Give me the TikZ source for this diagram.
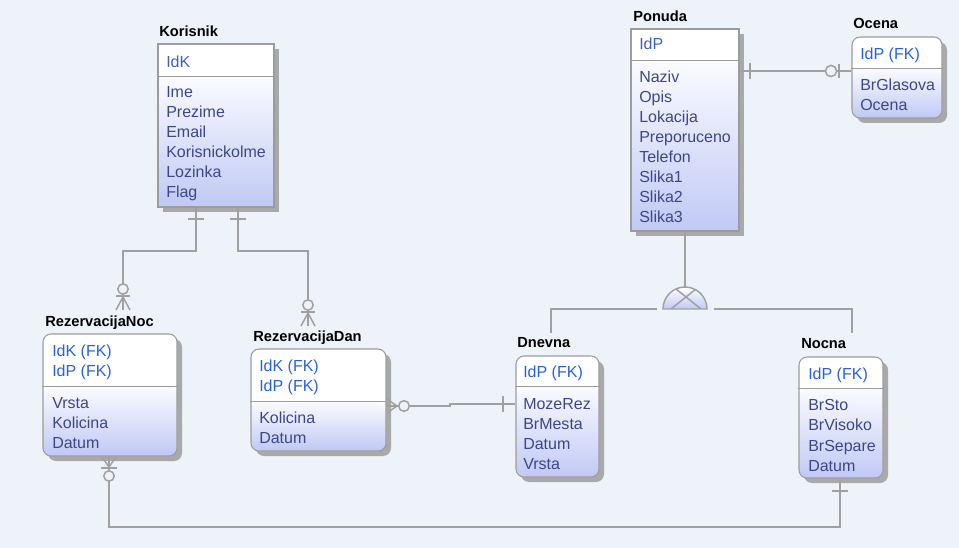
\documentclass[tikz,border=0pt]{standalone}
\usepackage{fontspec}
\setmainfont{Liberation Sans}
\usetikzlibrary{fit,shadows}
\definecolor{bgc}{HTML}{EEF3FA}
\definecolor{framec}{HTML}{9C9C9C}
\definecolor{shadowc}{HTML}{A9A9A9}
\definecolor{bodytop}{HTML}{FAFBFF}
\definecolor{bodybot}{HTML}{C0C9F5}
\definecolor{attrc}{HTML}{3D4785}
\definecolor{keyc}{HTML}{4560B0}
\definecolor{fkc}{HTML}{2A62D6}
\definecolor{connc}{HTML}{A0A0A0}
\newcommand\entbox[7]{%
  \node[entbg, #7, fit={(#2,#3) (#4,#5)}] (#1bg) {};
  \node[entbody, #7, fit={(#2,#6) (#4,#5)}] (#1body) {};
  \node[entframe, #7, fit={(#2,#3) (#4,#5)}] (#1) {};
  \draw[sepline] (#1.west |- #1body.north) -- (#1.east |- #1body.north);
}
\tikzset{
  entbg/.style={fill=white, draw=none, inner sep=0pt,
    drop shadow={shadow xshift=3.75pt, shadow yshift=-3.75pt, fill=shadowc, opacity=1}},
  entbody/.style={inner sep=0pt, draw=none, top color=bodytop, bottom color=bodybot},
  entframe/.style={inner sep=0pt, draw=framec, line width=0.8pt, fill=none},
  sepline/.style={draw=framec, line width=0.8pt},
  roundbox/.style={rounded corners=6pt},
  squarebox/.style={sharp corners},
  ttl/.style={font=\bfseries\fontsize{11}{13}\selectfont, text=black, inner sep=0pt, anchor=base west},
  attr/.style={font=\fontsize{12}{15}\selectfont, text=attrc, inner sep=0pt, anchor=base west},
  pk/.style={attr, text=keyc},
  fk/.style={attr, text=fkc},
  conn/.style={draw=connc, line width=1.1pt},
}
\begin{document}
\begin{tikzpicture}[x=0.75pt,y=-0.75pt]
\fill[bgc] (0,0) rectangle (959,548);
\useasboundingbox (0,0) rectangle (959,548);

% free ends of connectors
\coordinate (rnTop) at (123,310);
\coordinate (rdTop) at (308,326);
\coordinate (dnTop) at (551,333);
\coordinate (ncTop) at (852,333);
\coordinate (subTop) at (685,287);
\coordinate (subL) at (657,309);
\coordinate (subR) at (714,309);

% ---------- entities ----------
\entbox{kor}{158}{44}{274}{207}{77}{squarebox}
\entbox{po}{631}{29}{739}{231}{61}{squarebox}
\entbox{oc}{852}{37}{942}{118}{69}{roundbox}
\entbox{rn}{43}{334}{177}{456}{387}{roundbox}
\entbox{rd}{251}{349}{386}{451}{402}{roundbox}
\entbox{dn}{516}{356}{599}{477}{387}{roundbox}
\entbox{nc}{799}{357}{883}{478}{389}{roundbox}

% titles
\node[ttl] (korT) at (159,37) {Korisnik};
\node[ttl] (poT) at (633,22) {Ponuda};
\node[ttl] (ocT) at (853,29) {Ocena};
\node[ttl] (rnT) at (45,327) {RezervacijaNoc};
\node[ttl] (rdT) at (253,342) {RezervacijaDan};
\node[ttl] (dnT) at (517,348) {Dnevna};
\node[ttl] (ncT) at (801,349) {Nocna};

% Korisnik
\node[pk] (kor-k) at (166,68) {IdK};
\foreach \t [count=\i from 0] in {Ime,Prezime,Email,Korisnickolme,Lozinka,Flag}
  \node[attr] (kor-a\i) at (166,{98+20*\i}) {\t};
% Ponuda
\node[pk] (po-k) at (639,50) {IdP};
\foreach \t [count=\i from 0] in {Naziv,Opis,Lokacija,Preporuceno,Telefon,Slika1,Slika2,Slika3}
  \node[attr] (po-a\i) at (639,{83+20*\i}) {\t};
% Ocena
\node[fk] (oc-k) at (860,60) {IdP (FK)};
\foreach \t [count=\i from 0] in {BrGlasova,Ocena}
  \node[attr] (oc-a\i) at (860,{91+20*\i}) {\t};
% RezervacijaNoc
\node[fk] (rn-k0) at (52,357) {IdK (FK)};
\node[fk] (rn-k1) at (52,377) {IdP (FK)};
\foreach \t [count=\i from 0] in {Vrsta,Kolicina,Datum}
  \node[attr] (rn-a\i) at (52,{408+20*\i}) {\t};
% RezervacijaDan
\node[fk] (rd-k0) at (259,372) {IdK (FK)};
\node[fk] (rd-k1) at (259,392) {IdP (FK)};
\foreach \t [count=\i from 0] in {Kolicina,Datum}
  \node[attr] (rd-a\i) at (259,{423+20*\i}) {\t};
% Dnevna
\node[fk] (dn-k) at (523,378) {IdP (FK)};
\foreach \t [count=\i from 0] in {MozeRez,BrMesta,Datum,Vrsta}
  \node[attr] (dn-a\i) at (523,{409+20*\i}) {\t};
% Nocna
\node[fk] (nc-k) at (808,379) {IdP (FK)};
\foreach \t [count=\i from 0] in {BrSto,BrVisoko,BrSepare,Datum}
  \node[attr] (nc-a\i) at (808,{411+20*\i}) {\t};

% ---------- relationship lines ----------
% Korisnik -> RezervacijaNoc
\draw[conn] (196,0 |- kor.south) -- (196,251) -- (123,251) -- (rnTop);
\draw[conn] (188,219) -- (204,219);
\draw[conn] (116,296) -- (130,296);
\draw[conn] (123,297) -- (116,310) (123,297) -- (130,310);
\draw[conn, fill=bgc] (123,289) circle[radius=3.9pt];

% Korisnik -> RezervacijaDan
\draw[conn] (238,0 |- kor.south) -- (238,251) -- (308,251) -- (rdTop);
\draw[conn] (230,219) -- (246,219);
\draw[conn] (301,312) -- (315,312);
\draw[conn] (308,313) -- (301,326) (308,313) -- (315,326);
\draw[conn, fill=bgc] (308,305) circle[radius=3.9pt];

% RezervacijaDan -> Dnevna
\draw[conn] (rd.east |- 0,406) -- (450,406) -- (450,404) -- (dn.west |- 0,404);
\draw[conn] (397,406) -- (387,399) (397,406) -- (387,413);
\draw[conn, fill=bgc] (404,406) circle[radius=4pt];
\draw[conn] (503,396) -- (503,412);

% RezervacijaNoc -> Nocna
\draw[conn] (109,0 |- rn.south) -- (109,527) -- (840,527) -- (840,0 |- nc.south);
\draw[conn] (109,467) -- (102,457) (109,467) -- (116,457);
\draw[conn] (101,468) -- (117,468);
\draw[conn, fill=bgc] (109,476) circle[radius=3.9pt];
\draw[conn] (832,491) -- (848,491);

% Ponuda -> Ocena
\draw[conn] (po.east |- 0,71) -- (oc.west |- 0,71);
\draw[conn] (750,63) -- (750,79);
\draw[conn, fill=bgc] (831,71) circle[radius=4.2pt];
\draw[conn] (839,64) -- (839,78);

% Ponuda -> subtypes
\draw[conn] (685,0 |- po.south) -- (subTop);
\draw[conn] (dnTop) -- (551,309) -- (subL);
\draw[conn] (subR) -- (852,309) -- (ncTop);
\shade[top color=white, bottom color=bodybot] (663,309) arc[start angle=180, end angle=0, radius=16.5pt] -- cycle;
\begin{scope}
  \clip (663,309) arc[start angle=180, end angle=0, radius=16.5pt] -- cycle;
  \draw[conn] (671,309) -- (701,285) (701,309) -- (671,285);
\end{scope}
\draw[conn] (663,309) arc[start angle=180, end angle=0, radius=16.5pt] -- cycle;
\end{tikzpicture}
\end{document}
